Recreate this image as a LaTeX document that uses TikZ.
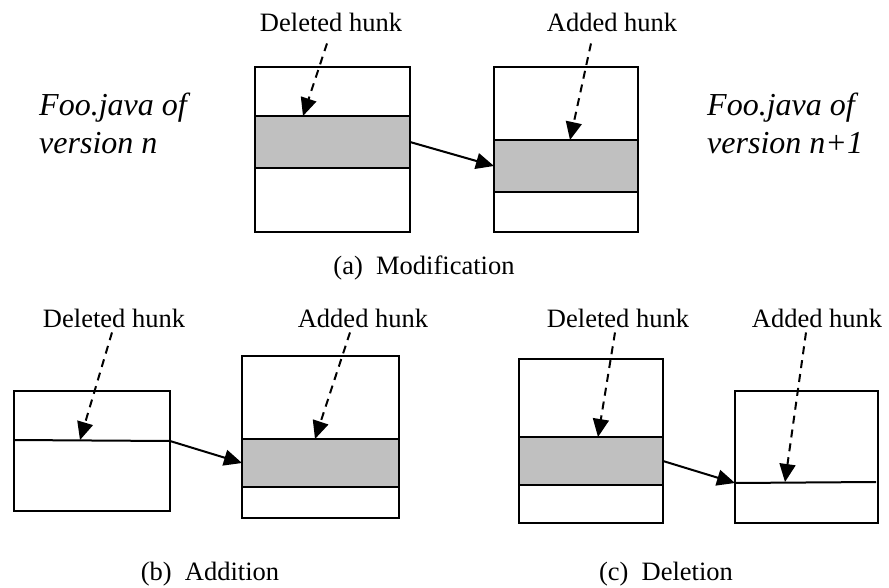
\documentclass[tikz,border=0pt]{standalone}
\usepackage{fontspec}
\setmainfont{Liberation Serif}
\usetikzlibrary{arrows.meta}

\definecolor{hunkgray}{RGB}{192,192,192}
\tikzset{
    file/.style={draw, line width=2pt, inner sep=0pt, outer sep=0pt, anchor=north west},
    hunk/.style={file, fill=hunkgray},
    tag/.style={inner sep=0pt, anchor=base, font=\fontsize{26.5}{30}\selectfont},
    version/.style={inner sep=0pt, anchor=base west, align=left, font=\fontsize{32}{38}\selectfont\itshape},
    move/.style={-{Triangle[length=18pt,width=16pt]}, line width=2pt},
    point/.style={-{Triangle[length=18pt,width=16pt]}, line width=2pt, dash pattern=on 8pt off 6pt},
    cut/.style={line width=2pt}
}

\begin{document}
\begin{tikzpicture}[x=1pt, y=-1pt]
    \useasboundingbox (0,0) rectangle (889,588);

    % (a) modification
    \node[file, minimum width=155pt, minimum height=165pt] (oldA) at (255,67) {};
    \node[hunk, minimum width=155pt, minimum height=52pt] (delA) at (255,116) {};
    \node[file, minimum width=144pt, minimum height=165pt] (newA) at (494,67) {};
    \node[hunk, minimum width=144pt, minimum height=52pt] (addA) at (494,140) {};
    \node[tag] (lDelA) at (331,32) {Deleted hunk};
    \node[tag] (lAddA) at (612,32) {Added hunk};
    \coordinate (tDelA) at (303,116);
    \coordinate (tAddA) at (570,140);
    \node[version] (oldname) at (39,154) {Foo.java of\\version n};
    \node[version] (newname) at (707,154) {Foo.java of\\version n+1};
    \draw[point] ([shift={(-4,11)}]lDelA.south) -- (tDelA);
    \draw[point] ([shift={(-21,11)}]lAddA.south) -- (tAddA);
    \draw[move] (delA.east) -- (addA.west);
    \node[tag] (capA) at (424,274) {(a)\hspace{.5em}Modification};

    % (b) addition
    \node[file, minimum width=156pt, minimum height=120pt] (oldB) at (14,391) {};
    \coordinate (cutBw) at (14,440);
    \coordinate (cutBe) at (170,441);
    \draw[cut] (cutBw) -- (cutBe);
    \node[file, minimum width=157pt, minimum height=162pt] (newB) at (242,356) {};
    \node[hunk, minimum width=157pt, minimum height=48pt] (addB) at (242,439) {};
    \node[tag] (lDelB) at (114,327) {Deleted hunk};
    \node[tag] (lAddB) at (363,327) {Added hunk};
    \coordinate (tDelB) at (80,440);
    \coordinate (tAddB) at (315,439);
    \draw[point] ([shift={(-2,5)}]lDelB.south) -- (tDelB);
    \draw[point] ([shift={(-13,5)}]lAddB.south) -- (tAddB);
    \draw[move] (cutBe) -- (addB.west);
    \node[tag] (capB) at (210,580) {(b)\hspace{.5em}Addition};

    % (c) deletion
    \node[file, minimum width=144pt, minimum height=164pt] (oldC) at (519,359) {};
    \node[hunk, minimum width=144pt, minimum height=48pt] (delC) at (519,437) {};
    \node[file, minimum width=143pt, minimum height=132pt] (newC) at (735,391) {};
    \coordinate (cutCw) at (735,483);
    \coordinate (cutCe) at (876,482);
    \draw[cut] (cutCw) -- (cutCe);
    \node[tag] (lDelC) at (618,327) {Deleted hunk};
    \node[tag] (lAddC) at (817,327) {Added hunk};
    \coordinate (tDelC) at (598,437);
    \coordinate (tAddC) at (785,482);
    \draw[point] ([shift={(-3,5)}]lDelC.south) -- (tDelC);
    \draw[point] ([shift={(-11,5)}]lAddC.south) -- (tAddC);
    \draw[move] (delC.east) -- (cutCw);
    \node[tag] (capC) at (666,580) {(c)\hspace{.5em}Deletion};
\end{tikzpicture}
\end{document}
